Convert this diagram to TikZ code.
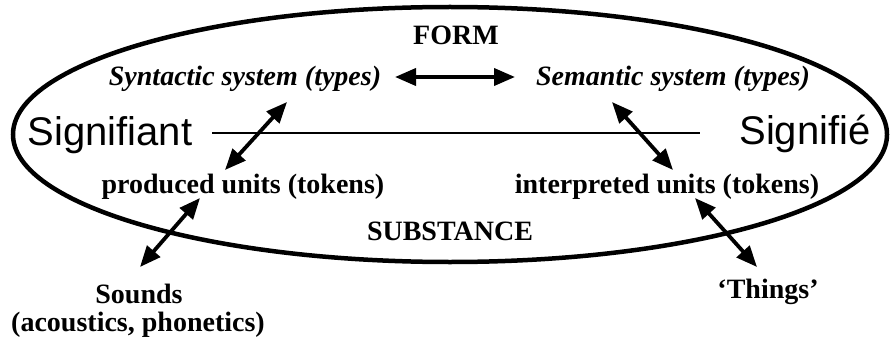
\documentclass[tikz,border=0pt]{standalone}
\usepackage{fontspec}
\setmainfont{Liberation Serif}
\newfontfamily\arialfont{Liberation Sans}
\usetikzlibrary{arrows.meta}
\begin{document}
\begin{tikzpicture}[x=1pt,y=-1pt,
  lbl/.style={font=\fontsize{28}{30}\selectfont\bfseries, inner sep=0pt, anchor=base},
  ilbl/.style={font=\fontsize{28}{30}\selectfont\bfseries\itshape, inner sep=0pt, anchor=base},
  sig/.style={font=\arialfont\fontsize{40}{44}\selectfont, inner sep=0pt, anchor=base},
  link/.style={line width=3.8pt,
    {Triangle[length=21pt,width=17pt]}-{Triangle[length=21pt,width=17pt]}},
  rim/.style={line width=4.5pt}]
\useasboundingbox (0,0) rectangle (890,342);

% the sign: form above, substance below
\draw[rim] (450,134.5) ellipse [x radius=437pt, y radius=127.5pt];

% texts
\node[lbl]  (form)   at (456,45)  {FORM};
\node[ilbl] (syn)    at (245,86)  {Syntactic system (types)};
\node[ilbl] (sem)    at (673,86)  {Semantic system (types)};
\node[sig]  (sfiant) at (110,145) {Signifiant};
\node[sig]  (sfie)   at (805,144) {Signifié};
\node[lbl]  (prod)   at (243,193) {produced units (tokens)};
\node[lbl]  (interp) at (667,193) {interpreted units (tokens)};
\node[lbl]  (subst)  at (450,240) {SUBSTANCE};
\node[lbl]  (snd)    at (139,303) {Sounds};
\node[lbl]  (acou)   at (138,331) {(acoustics, phonetics)};
\node[lbl]  (things) at (768,298) {‘Things’};

% connector ends
\coordinate (bar-l)  at (212,133);
\coordinate (bar-r)  at (700,133);
\coordinate (syn-e)  at (395,77);
\coordinate (sem-w)  at (515,77);
\coordinate (syn-s)  at (287,102);
\coordinate (prod-n) at (225,170);
\coordinate (sem-s)  at (612,102);
\coordinate (int-n)  at (673,170);
\coordinate (prod-s) at (200,198);
\coordinate (snd-n)  at (140,267);
\coordinate (int-s)  at (695,198);
\coordinate (thg-n)  at (757,267);

% signifiant / signifié bar
\draw[line width=1.3pt] (bar-l) -- (bar-r);

% relations
\draw[link] (syn-e)  -- (sem-w);
\draw[link] (syn-s)  -- (prod-n);
\draw[link] (sem-s)  -- (int-n);
\draw[link] (prod-s) -- (snd-n);
\draw[link] (int-s)  -- (thg-n);
\end{tikzpicture}
\end{document}
